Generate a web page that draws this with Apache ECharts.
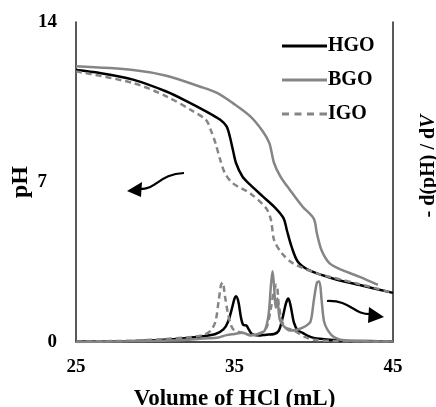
<!DOCTYPE html>
<html>
<head>
<meta charset="utf-8">
<script src="https://cdn.jsdelivr.net/npm/echarts@6/dist/echarts.min.js"></script>
<style>
  html, body { margin: 0; padding: 0; background: #fff; }
  #chart { width: 436px; height: 407px; }
</style>
</head>
<body>
<div id="chart"></div>
<script>
// titration curves (pH vs volume of HCl)
const hgoVol = [25, 26.5, 28.6, 30.7, 32, 33.2, 34.1, 34.5, 34.7, 34.9, 35.1, 35.5, 36, 36.8, 37.6, 38.1, 38.3, 38.6, 39, 39.7, 41.2, 42.9, 45]
const hgoPH = [11.9, 11.77, 11.48, 10.96, 10.53, 10.09, 9.72, 9.43, 9.0, 8.4, 7.82, 7.24, 6.87, 6.36, 5.85, 5.41, 4.9, 4.17, 3.51, 3.14, 2.78, 2.49, 2.15]

const bgoVol = [25, 28.6, 30.7, 32.8, 33.9, 34.9, 36, 36.8, 37.2, 37.5, 37.9, 38.5, 39.3, 40, 40.2, 40.5, 41, 41.8, 42.9, 44.05]
const bgoPH = [12.06, 11.9, 11.65, 11.18, 10.9, 10.45, 9.87, 9.2, 8.7, 7.82, 7.24, 6.65, 5.92, 5.4, 4.75, 4.0, 3.44, 3.14, 2.85, 2.5]

const igoVol = [25, 28.6, 30.7, 32.4, 33.2, 33.5, 33.8, 34.1, 34.4, 34.9, 36, 37, 37.3, 37.5, 38, 38.7, 40.2, 41.2, 42.9, 45]
const igoPH = [11.84, 11.33, 10.75, 10.09, 9.72, 9.28, 8.7, 7.97, 7.38, 6.94, 6.5, 5.85, 5.34, 4.46, 3.87, 3.44, 3.0, 2.82, 2.53, 2.15]

// first derivative, -d(pH)/dV (right axis, arbitrary units)
const hgoDVol = [25, 28, 30, 31, 32, 33, 33.8, 34.3, 34.6, 34.85, 35, 35.1, 35.25, 35.4, 35.55, 35.75, 35.9, 36.1, 36.5, 37, 37.5, 37.8, 38.05, 38.25, 38.4, 38.55, 38.75, 39, 39.3, 39.6, 40, 41, 42, 45]
const hgoDer = [0.02, 0.03, 0.08, 0.12, 0.18, 0.25, 0.35, 0.55, 0.9, 1.5, 1.9, 2.0, 1.75, 1.1, 0.75, 0.72, 0.55, 0.35, 0.28, 0.32, 0.35, 0.5, 1.1, 1.7, 1.9, 1.55, 0.85, 0.5, 0.4, 0.28, 0.18, 0.1, 0.06, 0.02]

const bgoDVol = [25, 30, 32, 33, 34, 34.5, 35, 35.5, 36, 36.5, 36.9, 37.15, 37.3, 37.4, 37.5, 37.6, 37.7, 37.85, 38.1, 38.5, 39, 39.5, 39.8, 40, 40.2, 40.35, 40.5, 40.65, 40.9, 41.3, 42, 45]
const bgoDer = [0.0, 0.05, 0.1, 0.15, 0.2, 0.3, 0.35, 0.4, 0.3, 0.35, 0.5, 1.2, 2.5, 3.1, 2.4, 1.5, 1.9, 1.0, 0.7, 0.5, 0.55, 0.7, 0.9, 1.8, 2.6, 2.65, 1.8, 0.9, 0.5, 0.2, 0.07, 0.02]

const igoDVol = [25, 28, 30, 31, 32, 33, 33.5, 33.8, 34, 34.15, 34.25, 34.4, 34.6, 34.8, 35, 35.5, 36, 36.5, 37, 37.3, 37.5, 37.65, 37.8, 38, 38.3, 38.6, 39, 39.5, 40, 41, 45]
const igoDer = [0.02, 0.05, 0.1, 0.15, 0.2, 0.3, 0.5, 0.9, 1.8, 2.5, 2.6, 2.0, 1.2, 0.7, 0.5, 0.4, 0.3, 0.35, 0.6, 1.5, 2.3, 2.5, 1.6, 0.9, 0.6, 0.55, 0.4, 0.2, 0.1, 0.05, 0.02]

const xTicks = [25, 35, 45]
const yTicks = [0, 7, 14]

const zip = (xs, ys) => xs.map((x, i) => [x, ys[i]])

const FONT = '"Liberation Serif", "Times New Roman", serif'
const BLACK = '#000000'
const GREY = '#858585'

// legend icons: a solid bar and a dashed bar
const SOLID_ICON = 'path://M0,0h45v3h-45z'
const DASH_ICON = 'path://M0,0h7v3h-7z M12.5,0h7v3h-7z M25,0h7v3h-7z M37.5,0h7.5v3h-7.5z'

function lineSeries (name, data, color, dashed, yIdx) {
  return {
    type: 'line',
    name,
    yAxisIndex: yIdx,
    data,
    symbol: 'none',
    smooth: 0.3,
    lineStyle: { color, width: 2.5, type: dashed ? [6, 4] : 'solid' },
    itemStyle: { color },
    z: yIdx === 0 ? 3 : 2
  }
}

const chart = echarts.init(document.getElementById('chart'), null, { renderer: 'canvas' })

const tickText = { fontFamily: FONT, fontWeight: 'bold', fontSize: 19, color: BLACK }

const option = {
  animation: false,
  backgroundColor: '#fff',
  grid: { left: 76, right: 43, top: 22, bottom: 65, outerBoundsMode: 'none', containLabel: false },
  legend: {
    orient: 'vertical',
    left: 277,
    top: 31,
    itemWidth: 45,
    itemHeight: 3,
    itemGap: 14,
    data: [
      { name: 'HGO', icon: SOLID_ICON },
      { name: 'BGO', icon: SOLID_ICON },
      { name: 'IGO', icon: DASH_ICON }
    ],
    textStyle: { fontFamily: FONT, fontWeight: 'bold', fontSize: 20, color: BLACK, padding: [0, 0, 0, -4] }
  },
  xAxis: [
    {
      type: 'value',
      min: 25,
      max: 45,
      interval: 10,
      name: 'Volume of HCl (mL)',
      nameLocation: 'middle',
      nameGap: 46,
      nameMoveOverlap: false,
      nameTextStyle: { fontFamily: FONT, fontWeight: 'bold', fontSize: 23, color: BLACK },
      axisLine: { show: true, lineStyle: { color: '#bdbdbd', width: 1.5 } },
      axisTick: { show: false },
      splitLine: { show: false },
      axisLabel: Object.assign({
        margin: 16,
        formatter: v => (xTicks.includes(v) ? String(v) : '')
      }, tickText)
    },
    {
      type: 'value',
      position: 'top',
      min: 25,
      max: 45,
      axisLine: { show: true, lineStyle: { color: '#222', width: 1.5 } },
      axisTick: { show: false },
      axisLabel: { show: false },
      splitLine: { show: false }
    }
  ],
  yAxis: [
    {
      type: 'value',
      min: 0,
      max: 14,
      interval: 7,
      name: 'pH',
      nameLocation: 'middle',
      nameGap: 43,
      nameMoveOverlap: false,
      nameRotate: 90,
      nameTextStyle: { fontFamily: FONT, fontWeight: 'bold', fontSize: 24, color: BLACK },
      axisLine: { show: true, lineStyle: { color: '#222', width: 1.5 } },
      axisTick: { show: false },
      splitLine: { show: false },
      axisLabel: Object.assign({
        margin: 19,
        formatter: v => (v === 7 ? '{s|7}' : (yTicks.includes(v) ? String(v) : '')),
        rich: { s: Object.assign({ padding: [0, 10, 0, 0] }, tickText) }
      }, tickText)
    },
    {
      type: 'value',
      position: 'right',
      min: 0,
      max: 14,
      name: '{b|- d(pH) / d}{i|V}',
      nameLocation: 'middle',
      nameGap: 26,
      nameMoveOverlap: false,
      nameRotate: 90,
      nameTextStyle: {
        padding: [0, 0, 0, 32],
        rich: {
          b: { fontFamily: FONT, fontWeight: 'bold', fontSize: 20, color: BLACK },
          i: { fontFamily: FONT, fontWeight: 'bold', fontStyle: 'italic', fontSize: 20, color: BLACK }
        }
      },
      axisLine: { show: true, lineStyle: { color: '#222', width: 1.5 } },
      axisTick: { show: false },
      axisLabel: { show: false },
      splitLine: { show: false }
    }
  ],
  series: [
    lineSeries('HGO', zip(hgoVol, hgoPH), BLACK, false, 0),
    lineSeries('BGO', zip(bgoVol, bgoPH), GREY, false, 0),
    lineSeries('IGO', zip(igoVol, igoPH), GREY, true, 0),
    lineSeries('HGO', zip(hgoDVol, hgoDer), BLACK, false, 1),
    lineSeries('BGO', zip(bgoDVol, bgoDer), GREY, false, 1),
    lineSeries('IGO', zip(igoDVol, igoDer), GREY, true, 1)
  ],
  graphic: [
    // curved arrow pointing to the left (pH) axis
    {
      type: 'bezierCurve',
      shape: { x1: 184, y1: 173, cpx1: 158, cpy1: 174, cpx2: 158, cpy2: 190, x2: 138, y2: 189 },
      style: { stroke: BLACK, lineWidth: 2.2, fill: null }
    },
    {
      type: 'polygon',
      shape: { points: [[127, 191], [142, 182], [141, 197]] },
      style: { fill: BLACK }
    },
    // curved arrow pointing to the right (derivative) axis
    {
      type: 'bezierCurve',
      shape: { x1: 327, y1: 301, cpx1: 352, cpy1: 300, cpx2: 352, cpy2: 315, x2: 372, y2: 314 },
      style: { stroke: BLACK, lineWidth: 2.2, fill: null }
    },
    {
      type: 'polygon',
      shape: { points: [[384, 317], [369, 307], [368, 323]] },
      style: { fill: BLACK }
    }
  ]
}

chart.setOption(option)
</script>
</body>
</html>
